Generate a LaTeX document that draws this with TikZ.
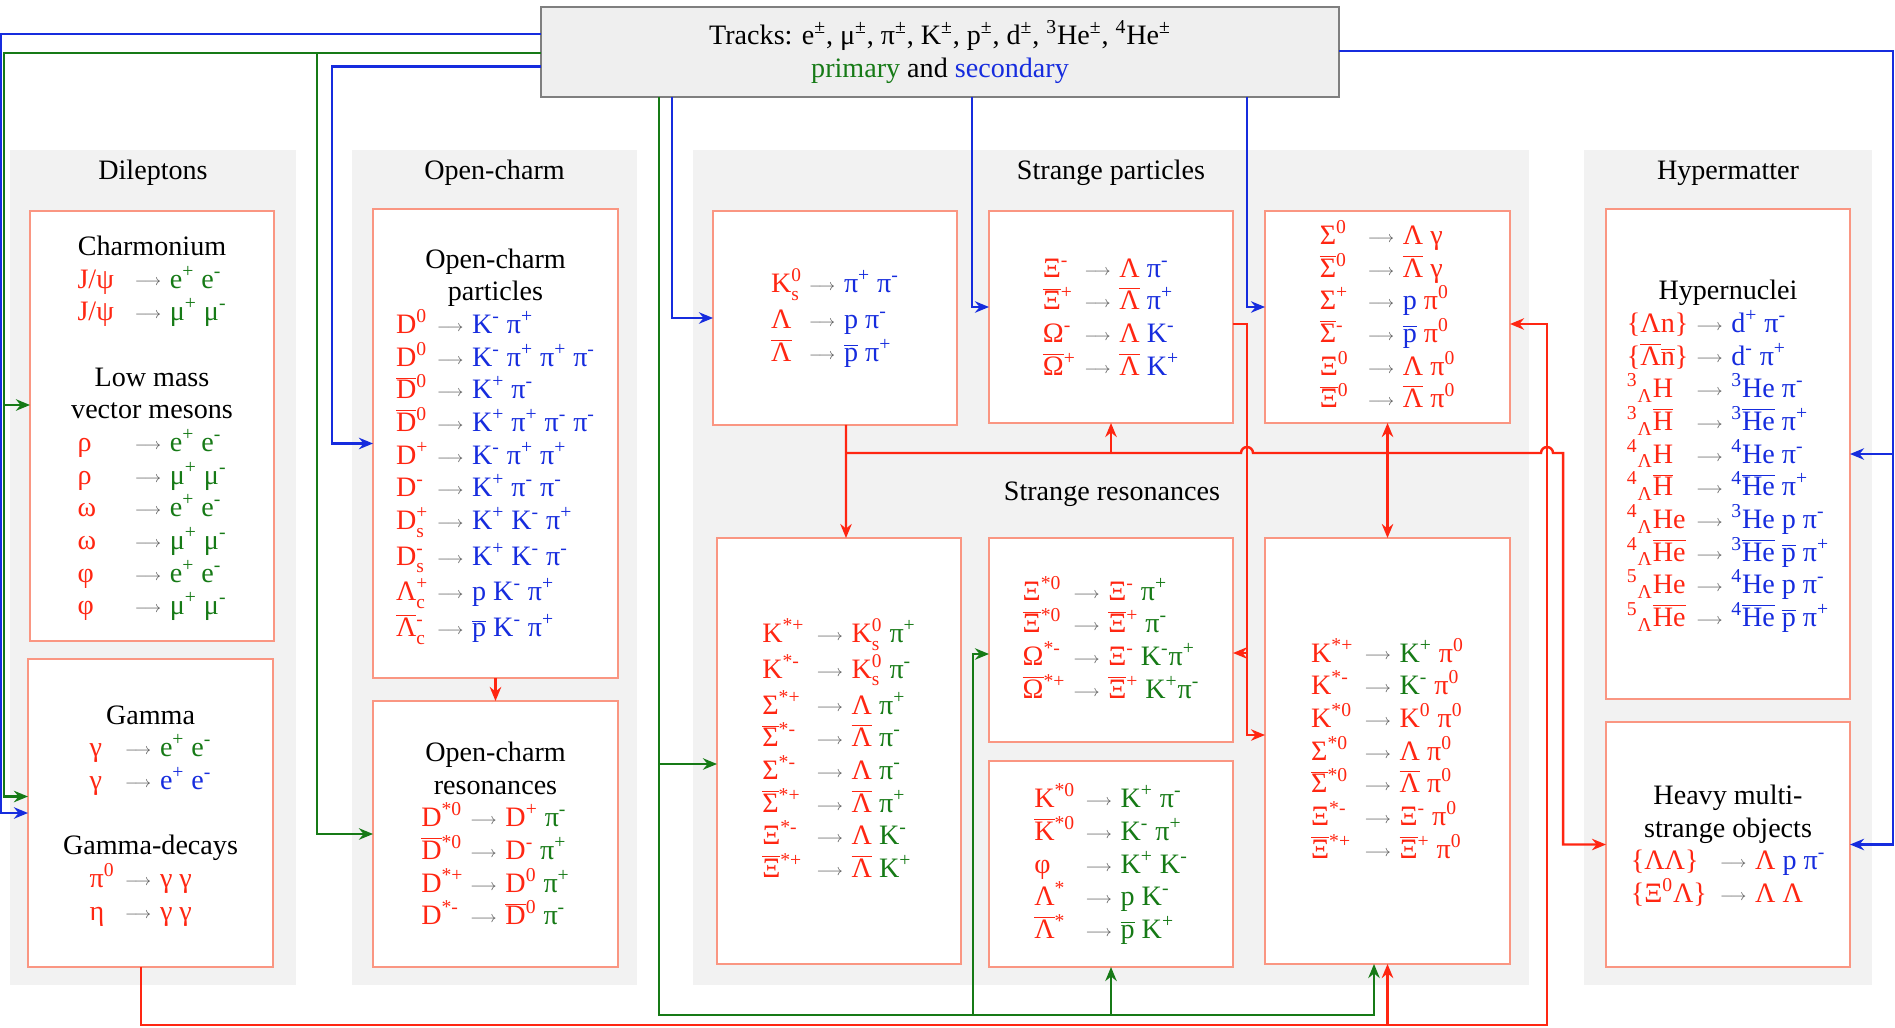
\documentclass[tikz,border=0pt]{standalone}
\usepackage{fontspec}
\setmainfont{Liberation Serif}
\usepackage{array}
\usetikzlibrary{arrows.meta}
\definecolor{PidRed}{RGB}{255,38,18}
\definecolor{PidGreen}{RGB}{22,122,22}
\definecolor{PidBlue}{RGB}{22,44,222}
\definecolor{PidLine}{RGB}{250,150,130}
\definecolor{PidPanel}{RGB}{242,242,242}
\definecolor{PidHead}{RGB}{239,239,239}
\definecolor{PidGray}{RGB}{95,95,95}
\newcommand{\tR}[1]{\textcolor{PidRed}{#1}}
\newcommand{\tG}[1]{\textcolor{PidGreen}{#1}}
\newcommand{\tB}[1]{\textcolor{PidBlue}{#1}}
\newcommand{\decay}{\textcolor{PidGray}{\raisebox{1.2pt}{\fontsize{9.5}{9.5}\selectfont$\longrightarrow$}}}
\newcommand{\ab}[1]{$\overline{\mbox{#1}}$}
\newcommand{\su}[1]{\textsuperscript{#1}}
\newcommand{\sd}[1]{\textsubscript{#1}}
\newcommand{\supsub}[2]{$^{\mbox{\fontsize{11}{11}\selectfont #1}}_{\mbox{\fontsize{11}{11}\selectfont #2}}$}
\newcommand{\rowstrut}{\rule[-4.1pt]{0pt}{18.6pt}}
\newcommand{\grouphead}[1]{\multicolumn{3}{c}{\rowstrut\makebox[0pt]{#1}}}
\newenvironment{decays}[1][6pt]{\renewcommand{\arraystretch}{0.5}%
  \begin{tabular}{@{}>{\rowstrut}l@{\hspace{#1}}c@{\hspace{5pt}}l@{}}}{\end{tabular}}
\tikzset{
  pid/panel/.style={fill=PidPanel, draw=none, inner sep=0pt, outer sep=0pt},
  pid/box/.style={
    draw=PidLine,
    line width=0.8pt,
    fill=white,
    inner sep=0pt,
    outer sep=0pt,
    font=\fontsize{16}{18.6}\selectfont
  },
  pid/head/.style={
    draw=PidGray!80,
    line width=0.9pt,
    fill=PidHead,
    align=center,
    inner sep=0pt,
    outer sep=0pt,
    font=\fontsize{16}{18.6}\selectfont
  },
  pid/title/.style={font=\fontsize{16}{18.6}\selectfont, inner sep=0pt},
  pid/blue/.style={-{Stealth[length=8pt,width=6.5pt]}, line width=1.4pt, draw=PidBlue},
  pid/green/.style={-{Stealth[length=8pt,width=6.5pt]}, line width=1.4pt, draw=PidGreen},
  pid/red/.style={-{Stealth[length=8pt,width=6.5pt]}, line width=1.4pt, draw=PidRed},
  pid/redboth/.style={{Stealth[length=8pt,width=6.5pt]}-{Stealth[length=8pt,width=6.5pt]}, line width=1.4pt, draw=PidRed}
}

\begin{document}
\begin{tikzpicture}[x=0.02cm,y=-0.02cm]
  \useasboundingbox (0,0) rectangle (1895,1027);
  % group panels
  \node[pid/panel,minimum width=5.72cm,minimum height=16.7cm] (dil) at (153,567.5) {};
  \node[pid/panel,minimum width=5.7cm,minimum height=16.7cm] (och) at (494.5,567.5) {};
  \node[pid/panel,minimum width=16.72cm,minimum height=16.7cm] (str) at (1111,567.5) {};
  \node[pid/panel,minimum width=5.76cm,minimum height=16.7cm] (hyp) at (1728,567.5) {};
  \node[pid/title] (dilT) at (153,173) {Dileptons};
  \node[pid/title] (ochT) at (494.5,173) {Open-charm};
  \node[pid/title] (strT) at (1111,173) {Strange particles};
  \node[pid/title] (resT) at (1112,494) {Strange resonances};
  \node[pid/title] (hypT) at (1728,173) {Hypermatter};

  \node[pid/head,minimum width=15.96cm,minimum height=1.8cm] (trk) at (940,52)
    {Tracks: e\su{±}, μ\su{±}, π\su{±}, K\su{±}, p\su{±}, d\su{±}, \su{3}He\su{±}, \su{4}He\su{±}\\
     \tG{primary} and \tB{secondary}};

  % dileptons
  \node[pid/box,minimum width=4.88cm,minimum height=8.6cm] (chm) at (152,426) {%
    \begin{decays}[12pt]
      \grouphead{Charmonium}\\
      \tR{J/ψ} & \decay & \tG{e\su{+} e\su{-}}\\
      \tR{J/ψ} & \decay & \tG{μ\su{+} μ\su{-}}\\
      \\
      \grouphead{Low mass}\\
      \grouphead{vector mesons}\\
      \tR{ρ} & \decay & \tG{e\su{+} e\su{-}}\\
      \tR{ρ} & \decay & \tG{μ\su{+} μ\su{-}}\\
      \tR{ω} & \decay & \tG{e\su{+} e\su{-}}\\
      \tR{ω} & \decay & \tG{μ\su{+} μ\su{-}}\\
      \tR{φ} & \decay & \tG{e\su{+} e\su{-}}\\
      \tR{φ} & \decay & \tG{μ\su{+} μ\su{-}}
    \end{decays}};
  \node[pid/box,minimum width=4.9cm,minimum height=6.16cm] (gam) at (150.5,813) {%
    \begin{decays}[6pt]
      \grouphead{Gamma}\\
      \tR{γ} & \decay & \tG{e\su{+} e\su{-}}\\
      \tR{γ} & \decay & \tB{e\su{+} e\su{-}}\\
      \\
      \grouphead{Gamma-decays}\\
      \tR{π\su{0}} & \decay & \tR{γ γ}\\
      \tR{η} & \decay & \tR{γ γ}
    \end{decays}};

  % open charm
  \node[pid/box,minimum width=4.9cm,minimum height=9.38cm] (ocp) at (495.5,443.5) {%
    \begin{decays}[5pt]
      \grouphead{Open-charm}\\
      \grouphead{particles}\\
      \tR{D\su{0}} & \decay & \tB{K\su{-} π\su{+}}\\
      \tR{D\su{0}} & \decay & \tB{K\su{-} π\su{+} π\su{+} π\su{-}}\\
      \tR{\ab{D}\su{0}} & \decay & \tB{K\su{+} π\su{-}}\\
      \tR{\ab{D}\su{0}} & \decay & \tB{K\su{+} π\su{+} π\su{-} π\su{-}}\\
      \tR{D\su{+}} & \decay & \tB{K\su{-} π\su{+} π\su{+}}\\
      \tR{D\su{-}} & \decay & \tB{K\su{+} π\su{-} π\su{-}}\\
      \tR{D\supsub{+}{s}} & \decay & \tB{K\su{+} K\su{-} π\su{+}}\\[3pt]
      \tR{D\supsub{-}{s}} & \decay & \tB{K\su{+} K\su{-} π\su{-}}\\[3pt]
      \tR{Λ\supsub{+}{c}} & \decay & \tB{p K\su{-} π\su{+}}\\[3pt]
      \tR{\ab{Λ}\supsub{-}{c}} & \decay & \tB{\ab{p} K\su{-} π\su{+}}
    \end{decays}};
  \node[pid/box,minimum width=4.9cm,minimum height=5.32cm] (ocr) at (495.5,834) {%
    \begin{decays}[4pt]
      \grouphead{Open-charm}\\
      \grouphead{resonances}\\
      \tR{D\su{*0}} & \decay & \tR{D\su{+}} \tG{π\su{-}}\\
      \tR{\ab{D}\su{*0}} & \decay & \tR{D\su{-}} \tG{π\su{+}}\\
      \tR{D\su{*+}} & \decay & \tR{D\su{0}} \tG{π\su{+}}\\
      \tR{D\su{*-}} & \decay & \tR{\ab{D}\su{0}} \tG{π\su{-}}
    \end{decays}};

  % strange particles
  \node[pid/box,minimum width=4.88cm,minimum height=4.28cm] (kzs) at (835,318) {%
    \begin{decays}[4pt]
      \tR{K\supsub{0}{s}} & \decay & \tB{π\su{+} π\su{-}}\\[3pt]
      \tR{Λ} & \decay & \tB{p π\su{-}}\\
      \tR{\ab{Λ}} & \decay & \tB{\ab{p} π\su{+}}
    \end{decays}};
  \node[pid/box,minimum width=4.88cm,minimum height=4.24cm] (xim) at (1111,317) {%
    \begin{decays}[5pt]
      \tR{Ξ\su{-}} & \decay & \tR{Λ} \tB{π\su{-}}\\
      \tR{\ab{Ξ}\su{+}} & \decay & \tR{\ab{Λ}} \tB{π\su{+}}\\
      \tR{Ω\su{-}} & \decay & \tR{Λ} \tB{K\su{-}}\\
      \tR{\ab{Ω}\su{+}} & \decay & \tR{\ab{Λ}} \tB{K\su{+}}
    \end{decays}};
  \node[pid/box,minimum width=4.9cm,minimum height=4.24cm] (sig) at (1387.5,317) {%
    \begin{decays}[11pt]
      \tR{Σ\su{0}} & \decay & \tR{Λ γ}\\
      \tR{\ab{Σ}\su{0}} & \decay & \tR{\ab{Λ} γ}\\
      \tR{Σ\su{+}} & \decay & \tB{p} \tR{π\su{0}}\\
      \tR{\ab{Σ}\su{-}} & \decay & \tB{\ab{p}} \tR{π\su{0}}\\
      \tR{Ξ\su{0}} & \decay & \tR{Λ π\su{0}}\\
      \tR{\ab{Ξ}\su{0}} & \decay & \tR{\ab{Λ} π\su{0}}
    \end{decays}};

  % strange resonances
  \node[pid/box,minimum width=4.88cm,minimum height=8.52cm] (kst) at (839,751) {%
    \begin{decays}[7pt]
      \tR{K\su{*+}} & \decay & \tR{K\supsub{0}{s}} \tG{π\su{+}}\\[3pt]
      \tR{K\su{*-}} & \decay & \tR{K\supsub{0}{s}} \tG{π\su{-}}\\[3pt]
      \tR{Σ\su{*+}} & \decay & \tR{Λ} \tG{π\su{+}}\\
      \tR{\ab{Σ}\su{*-}} & \decay & \tR{\ab{Λ}} \tG{π\su{-}}\\
      \tR{Σ\su{*-}} & \decay & \tR{Λ} \tG{π\su{-}}\\
      \tR{\ab{Σ}\su{*+}} & \decay & \tR{\ab{Λ}} \tG{π\su{+}}\\
      \tR{Ξ\su{*-}} & \decay & \tR{Λ} \tG{K\su{-}}\\
      \tR{\ab{Ξ}\su{*+}} & \decay & \tR{\ab{Λ}} \tG{K\su{+}}
    \end{decays}};
  \node[pid/box,minimum width=4.88cm,minimum height=4.08cm] (xis) at (1111,640) {%
    \begin{decays}[4.5pt]
      \tR{Ξ\su{*0}} & \decay & \tR{Ξ\su{-}} \tG{π\su{+}}\\
      \tR{\ab{Ξ}\su{*0}} & \decay & \tR{\ab{Ξ}\su{+}} \tG{π\su{-}}\\
      \tR{Ω\su{*-}} & \decay & \tR{Ξ\su{-}} \tG{K\su{-}π\su{+}}\\
      \tR{\ab{Ω}\su{*+}} & \decay & \tR{\ab{Ξ}\su{+}} \tG{K\su{+}π\su{-}}
    \end{decays}};
  \node[pid/box,minimum width=4.88cm,minimum height=4.12cm] (kso) at (1111,864) {%
    \begin{decays}[6pt]
      \tR{K\su{*0}} & \decay & \tG{K\su{+} π\su{-}}\\
      \tR{\ab{K}\su{*0}} & \decay & \tG{K\su{-} π\su{+}}\\
      \tR{φ} & \decay & \tG{K\su{+} K\su{-}}\\
      \tR{Λ\su{*}} & \decay & \tG{p K\su{-}}\\
      \tR{\ab{Λ}\su{*}} & \decay & \tG{\ab{p} K\su{+}}
    \end{decays}};
  \node[pid/box,minimum width=4.9cm,minimum height=8.52cm] (ksp) at (1387.5,751) {%
    \begin{decays}[6.5pt]
      \tR{K\su{*+}} & \decay & \tG{K\su{+}} \tR{π\su{0}}\\
      \tR{K\su{*-}} & \decay & \tG{K\su{-}} \tR{π\su{0}}\\
      \tR{K\su{*0}} & \decay & \tR{K\su{0} π\su{0}}\\
      \tR{Σ\su{*0}} & \decay & \tR{Λ π\su{0}}\\
      \tR{\ab{Σ}\su{*0}} & \decay & \tR{\ab{Λ} π\su{0}}\\
      \tR{Ξ\su{*-}} & \decay & \tR{Ξ\su{-} π\su{0}}\\
      \tR{\ab{Ξ}\su{*+}} & \decay & \tR{\ab{Ξ}\su{+} π\su{0}}
    \end{decays}};

  % hypermatter
  \node[pid/box,minimum width=4.88cm,minimum height=9.8cm] (hyn) at (1728,454) {%
    \begin{decays}[4.5pt]
      \grouphead{Hypernuclei}\\
      \tR{\{Λn\}} & \decay & \tB{d\su{+} π\su{-}}\\
      \tR{\{\ab{Λ}\ab{n}\}} & \decay & \tB{d\su{-} π\su{+}}\\
      \tR{\su{3}\sd{Λ}H} & \decay & \tB{\su{3}He π\su{-}}\\
      \tR{\su{3}\sd{Λ}\ab{H}} & \decay & \tB{\su{3}\ab{He} π\su{+}}\\
      \tR{\su{4}\sd{Λ}H} & \decay & \tB{\su{4}He π\su{-}}\\
      \tR{\su{4}\sd{Λ}\ab{H}} & \decay & \tB{\su{4}\ab{He} π\su{+}}\\
      \tR{\su{4}\sd{Λ}He} & \decay & \tB{\su{3}He p π\su{-}}\\
      \tR{\su{4}\sd{Λ}\ab{He}} & \decay & \tB{\su{3}\ab{He} \ab{p} π\su{+}}\\
      \tR{\su{5}\sd{Λ}He} & \decay & \tB{\su{4}He p π\su{-}}\\
      \tR{\su{5}\sd{Λ}\ab{He}} & \decay & \tB{\su{4}\ab{He} \ab{p} π\su{+}}
    \end{decays}};
  \node[pid/box,minimum width=4.88cm,minimum height=4.9cm] (hms) at (1728,844.5) {%
    \begin{decays}[7.5pt]
      \grouphead{Heavy multi-}\\
      \grouphead{strange objects}\\
      \tR{\{ΛΛ\}} & \decay & \tR{Λ} \tB{p π\su{-}}\\
      \tR{\{Ξ\su{0}Λ\}} & \decay & \tR{Λ Λ}
    \end{decays}};

  % blue: secondary tracks
  \draw[pid/blue] ([yshift=0.36cm]trk.west) -- ++(-540,0) |- (gam.west);
  \draw[pid/blue] ([yshift=-0.29cm]trk.west) -- ++(-209,0) |- (ocp.west);
  \draw[pid/blue] ([xshift=-5.36cm]trk.south) |- (kzs.west);
  \draw[pid/blue] ([xshift=0.64cm]trk.south) |- ([yshift=0.2cm]xim.west);
  \draw[pid/blue] ([xshift=6.14cm]trk.south) |- ([yshift=0.2cm]sig.west);
  \draw[pid/blue] ([yshift=0.02cm]trk.east) -- ++(554,0) coordinate (bRail) |- (hms.east);
  \draw[pid/blue] (bRail) |- (hyn.east);

  % green: primary tracks
  \draw[pid/green] ([yshift=-0.02cm]trk.west) -- ++(-537,0) coordinate (gRail) |- ([yshift=0.33cm]gam.west);
  \draw[pid/green] (gRail) |- ([yshift=0.42cm]chm.west);
  \coordinate (gOc) at (317,53);
  \draw[pid/green] (gOc) |- (ocr.west);
  \draw[pid/green] ([xshift=-5.62cm]trk.south) coordinate (gTrunk)
    |- ([xshift=-0.27cm,yshift=-1.02cm]ksp.south) coordinate (gFoot) -- ([xshift=-0.27cm]ksp.south);
  \draw[pid/green] (gTrunk) |- ([yshift=-0.26cm]kst.west);
  \coordinate (gXi) at (973,1015);
  \draw[pid/green] (gXi) |- ([yshift=-0.28cm]xis.west);
  \draw[pid/green] (gFoot -| kso.south) -- (kso.south);

  % red: reconstructed particles
  \draw[pid/red] (ocp.south) -- (ocr.north);
  \draw[pid/red] ([xshift=-0.19cm]gam.south) -- ++(0,58) coordinate (rFoot)
    -| ([xshift=0.74cm,yshift=-0.14cm]sig.east) -- ([yshift=-0.14cm]sig.east);
  \draw[pid/red] (rFoot -| ksp.south) -- (ksp.south);
  \draw[pid/red] ([yshift=-0.14cm]xim.east) -- ++(14,0) coordinate (rXi) |- ([yshift=0.32cm]ksp.west);
  \coordinate (rXiB) at (1247,653);
  \draw[pid/red] (rXiB) -- (rXiB -| xis.east);
  \draw[pid/red] ([xshift=0.22cm]kzs.south) -- ([xshift=0.14cm]kst.north);
  \coordinate (rJoin) at (846,453);
  \coordinate (hopXi) at (1247,453);
  \coordinate (hopSg) at (1547,453);
  \draw[pid/red] (rJoin) -- ([xshift=-0.12cm]hopXi) arc[start angle=180,end angle=0,radius=0.12cm]
    -- ([xshift=-0.12cm]hopSg) arc[start angle=180,end angle=0,radius=0.12cm]
    -- ++(0.2cm,0) |- (hms.west);
  \draw[pid/red] (rJoin -| xim.south) -- (xim.south);
  \draw[pid/redboth] (sig.south) -- (ksp.north);
\end{tikzpicture}
\end{document}
